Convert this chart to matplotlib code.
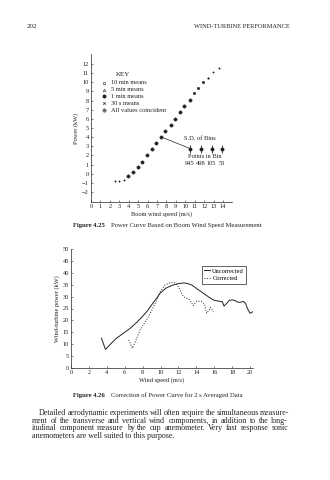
import matplotlib
matplotlib.use("Agg")
import matplotlib.pyplot as plt

plt.rcParams['font.family'] = ['Liberation Serif', 'DejaVu Serif']

# ---- Figure 4.25 data (boom wind speed bins) ----
boom_speed = [2.5, 3.0, 3.45, 3.95, 4.5, 5.0, 5.45, 5.9, 6.45, 6.9, 7.4, 7.9,
              8.45, 8.9, 9.45, 9.9, 10.45, 10.9, 11.35, 11.9, 12.4, 12.95, 13.55]
boom_power = [-0.85, -0.85, -0.7, -0.25, 0.15, 0.7, 1.3, 2.05, 2.75, 3.4, 4.0, 4.7,
              5.35, 6.0, 6.7, 7.45, 8.1, 8.8, 9.35, 10.0, 10.45, 11.1, 11.6]
boom_kind = ['s', 's', 's', 'c', 'c', 'c', 'c', 'c', 'c', 'c', 'c', 'c',
             'c', 'c', 'c', 'c', 'c', 'm', 'm', 'm', 'd', 's', 's']

bin_speed = [10.5, 11.65, 12.8, 13.9]
bin_counts = [945, 498, 105, 53]

key_labels = ['10 min means', '5 min means', '1 min means', '30 s means',
              'All values coincident']
key_markers = ['s', '^', 'o', 'x', 'all']

# ---- Figure 4.26 data ----
unc_speed = [3.4, 3.85, 4.3, 5.0, 5.8, 6.6, 7.3, 7.9, 8.5, 9.0, 9.5, 9.95, 10.6, 11.4,
             12.0, 12.6, 13.0, 13.5, 14.2, 14.8, 15.4, 15.9, 16.6, 16.9, 17.1,
             17.4, 17.7, 18.1, 18.4, 18.7, 19.0, 19.25, 19.5, 19.7, 20.0, 20.3]
unc_power = [12.5, 7.7, 9.5, 12.2, 14.4, 16.6, 19.0, 21.3, 23.8, 26.5, 29.0, 31.4, 33.6, 34.9,
             35.5, 35.8, 35.6, 34.9, 33.0, 31.4, 29.8, 28.6, 28.0, 27.9, 26.0,
             27.2, 28.5, 28.6, 28.2, 27.6, 27.7, 28.0, 27.2, 25.1, 23.0, 23.6]
cor_speed = [6.45, 6.85, 7.3, 7.7, 8.2, 8.65, 9.0, 9.4, 9.7, 9.95, 10.5, 11.05, 11.6,
             12.0, 12.3, 12.55, 13.0, 13.3, 13.65, 14.05, 14.6, 14.95, 15.15,
             15.45, 15.6, 15.9]
cor_power = [11.7, 8.2, 12.0, 15.9, 18.8, 21.5, 24.0, 27.2, 29.8, 32.1, 34.9, 35.9, 35.9,
             34.2, 32.0, 30.0, 29.2, 28.6, 26.2, 28.1, 28.0, 26.5, 23.0,
             24.4, 25.5, 23.6]

paragraph = [
    "Detailed aerodynamic experiments will often require the simultaneous measure-",
    "ment of the transverse and vertical wind components, in addition to the long-",
    "itudinal component measure by the cup anemometer. Very fast response sonic",
    "anemometers are well suited to this purpose.",
]

W, H = 330, 480
fig = plt.figure(figsize=(3.3, 4.8), dpi=100)
renderer = fig.canvas.get_renderer()


def px(x0, y0, x1, y1):
    return [x0 / W, 1 - y1 / H, (x1 - x0) / W, (y1 - y0) / H]


def fpos(x, y):
    return x / W, 1 - y / H


def text_width(s, size, weight='normal'):
    t = fig.text(0, 0, s, fontsize=size, fontweight=weight)
    w = t.get_window_extent(renderer).width
    t.remove()
    return w


def caption(x, y, label, rest, size):
    fig.text(*fpos(x, y), label, fontsize=size, fontweight='bold', va='center',
             color=ink)
    fig.text(*fpos(x + text_width(label, size, 'bold') + 6, y), rest,
             fontsize=size, va='center', color=ink)


fs = 4.6
ink = '#222222'

# page header
fig.text(*fpos(27, 26), '202', fontsize=5, va='center', color=ink)
fig.text(*fpos(290, 26), 'WIND-TURBINE PERFORMANCE', fontsize=4.6, va='center',
         ha='right', color=ink)

# ================= Figure 4.25 =================
ax1 = fig.add_axes(px(91, 54, 232.4, 202))
ax1.set_xlim(0, 15)
ax1.set_ylim(-3.1, 13.1)
for side in ['top', 'right']:
    ax1.spines[side].set_visible(False)
for side in ['left', 'bottom']:
    ax1.spines[side].set_linewidth(0.5)
    ax1.spines[side].set_color(ink)
ax1.set_xticks(range(0, 15))
ax1.set_yticks(range(-2, 13))
ax1.tick_params(direction='in', length=1.5, width=0.4, labelsize=fs, pad=1.5,
                colors=ink)
ax1.set_xlabel('Boom wind speed (m/s)', fontsize=fs, labelpad=1.5, color=ink)
ax1.set_ylabel('Power (kW)', fontsize=fs, labelpad=2, color=ink)

sizes = {'s': 1.0, 'c': 2.4, 'm': 1.8, 'd': 1.2}
for x, y, k in zip(boom_speed, boom_power, boom_kind):
    ax1.plot(x, y, 'o', ms=sizes[k], color=ink, mec=ink, mew=0.3)

# key
ax1.text(3.4, 10.9, 'KEY', fontsize=5, ha='center', va='center', color=ink)
for i, (lab, mk) in enumerate(zip(key_labels, key_markers)):
    yy = 9.95 - i * 0.75
    if mk in ('s', '^'):
        ax1.plot(1.4, yy, mk, ms=1.8, mfc='white', mec=ink, mew=0.4)
    elif mk == 'o':
        ax1.plot(1.4, yy, mk, ms=1.8, color=ink)
    elif mk == 'x':
        ax1.plot(1.4, yy, mk, ms=1.8, color=ink, mew=0.5)
    else:
        ax1.plot(1.4, yy, 'o', ms=2.4, mfc='white', mec=ink, mew=0.4)
        ax1.plot(1.4, yy, '+', ms=1.8, color=ink, mew=0.4)
        ax1.plot(1.4, yy, 'x', ms=1.3, color=ink, mew=0.4)
    ax1.text(2.15, yy, lab, fontsize=fs, va='center', color=ink)

# S.D. of bins annotation
ax1.plot([7.5, 10.4], [4.0, 2.8], color=ink, lw=0.5)
ax1.errorbar(bin_speed, [2.7] * 4, yerr=0.4, fmt='o', ms=1.8, color=ink,
             elinewidth=0.6, capsize=0)
ax1.text(11.6, 3.8, 'S.D. of Bins', fontsize=fs, ha='center', va='center', color=ink)
ax1.text(12.1, 1.85, 'Points in Bin', fontsize=fs, ha='center', va='center', color=ink)
for x, n in zip(bin_speed, bin_counts):
    ax1.text(x, 1.1, str(n), fontsize=fs, ha='center', va='center', color=ink)

caption(73, 226, 'Figure 4.25', 'Power Curve Based on Boom Wind Speed Measurement', 4.8)

# ================= Figure 4.26 =================
ax2 = fig.add_axes(px(71, 249.3, 252.7, 367.7))
ax2.set_xlim(0, 20.3)
ax2.set_ylim(0, 50)
for side in ['top', 'right']:
    ax2.spines[side].set_visible(False)
for side in ['left', 'bottom']:
    ax2.spines[side].set_linewidth(0.5)
    ax2.spines[side].set_color(ink)
ax2.set_xticks(range(0, 21, 2))
ax2.set_yticks(range(0, 51, 5))
ax2.tick_params(direction='in', length=1.5, width=0.4, labelsize=fs, pad=1.5,
                colors=ink)
ax2.set_xlabel('Wind speed (m/s)', fontsize=fs, labelpad=1.5, color=ink)
ax2.set_ylabel('Wind-turbine power (kW)', fontsize=fs, labelpad=2, color=ink)

ax2.plot(unc_speed, unc_power, '-', color=ink, lw=0.7, label='Uncorrected')
ax2.plot(cor_speed, cor_power, ':', color=ink, lw=0.7, label='Corrected')
leg = ax2.legend(loc='upper left', bbox_to_anchor=(0.72, 0.86), fontsize=fs,
                 fancybox=False, edgecolor=ink, framealpha=1, handlelength=1.0,
                 handletextpad=0.3, borderpad=0.35, labelspacing=0.35,
                 borderaxespad=0)
leg.get_frame().set_linewidth(0.5)

caption(73, 395, 'Figure 4.26', 'Correction of Power Curve for 2 s Averaged Data', 4.8)

# ================= paragraph (justified) =================
pfs = 5.75
left, right = 31.7, 288.0
line_y = [413.3, 420.8, 428.3, 435.8]
for i, line in enumerate(paragraph):
    x0 = left + (7.5 if i == 0 else 0)
    words = line.split(' ')
    if i == len(paragraph) - 1:
        fig.text(*fpos(x0, line_y[i]), line, fontsize=pfs, va='center', color=ink)
        continue
    widths = [text_width(w, pfs) for w in words]
    gap = max((right - x0 - sum(widths)) / (len(words) - 1), 1.2)
    x = x0
    for w, wd in zip(words, widths):
        fig.text(*fpos(x, line_y[i]), w, fontsize=pfs, va='center', color=ink)
        x += wd + gap

fig.savefig('out.png', dpi=100)
